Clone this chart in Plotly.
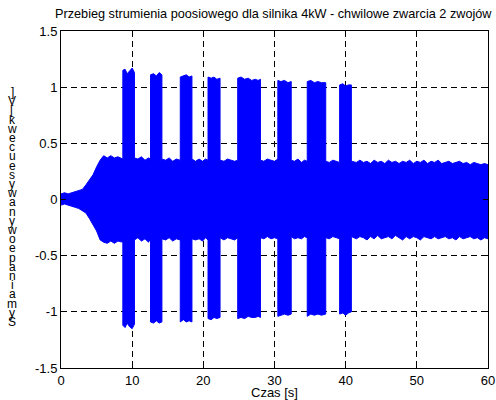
import plotly.graph_objects as go

# ---------------- data ----------------
# envelope of the recorded signal: time [s], upper and lower bound
env_t = [0, 0.5, 1, 1.5, 2, 2.5, 3, 3.5, 4, 4.5, 5, 5.5, 6, 6.5, 7, 7.5, 8, 8.69,
         8.69, 9.0, 9.3, 9.6, 10.0, 10.32,
         10.32, 10.8, 11.3, 11.8, 12.3, 12.58,
         12.58, 13.0, 13.4, 13.8, 14.18,
         14.18, 14.7, 15.2, 15.7, 16.2, 16.76,
         16.76, 17.2, 17.6, 18.0, 18.4,
         18.4, 18.9, 19.4, 19.9, 20.3, 20.66,
         20.66, 21.1, 21.5, 21.9, 22.35,
         22.35, 22.9, 23.4, 23.9, 24.4, 24.83,
         24.83, 25.3, 25.8, 26.3, 26.8, 27.3, 27.7, 28.03,
         28.03, 28.5, 29.0, 29.5, 30.0, 30.47,
         30.47, 30.9, 31.4, 31.9, 32.35,
         32.35, 32.8, 33.3, 33.8, 34.2, 34.6,
         34.6, 35.1, 35.6, 36.1, 36.6, 37.2,
         37.2, 37.7, 38.2, 38.7, 39.15,
         39.15, 39.6, 40.0, 40.4, 40.8,
         40.8, 41.5, 42, 42.5, 43, 43.5, 44, 44.5, 45, 45.5, 46, 46.5, 47, 47.5,
         48, 48.5, 49, 49.5, 50, 50.5, 51, 51.5, 52, 52.5, 53, 53.5, 54, 54.5,
         55, 55.5, 56, 56.5, 57, 57.5, 58, 58.5, 59, 59.5, 60]

env_upper = [0.05, 0.06, 0.05, 0.06, 0.07, 0.08, 0.09, 0.13, 0.17, 0.22, 0.29, 0.35, 0.39, 0.37, 0.39, 0.37, 0.38, 0.36,
             1.15, 1.16, 1.12, 1.14, 1.17, 1.13,
             0.37, 0.36, 0.38, 0.35, 0.37, 0.36,
             1.11, 1.12, 1.10, 1.13, 1.11,
             0.36, 0.35, 0.37, 0.34, 0.36, 0.35,
             1.09, 1.10, 1.11, 1.09, 1.10,
             0.36, 0.34, 0.36, 0.34, 0.36, 0.35,
             1.09, 1.08, 1.09, 1.07, 1.08,
             0.35, 0.34, 0.36, 0.35, 0.34, 0.35,
             1.08, 1.09, 1.07, 1.08, 1.06, 1.07, 1.06, 1.07,
             0.35, 0.34, 0.36, 0.35, 0.34, 0.36,
             1.06, 1.05, 1.06, 1.04, 1.05,
             0.35, 0.34, 0.36, 0.33, 0.35, 0.34,
             1.05, 1.06, 1.04, 1.05, 1.04, 1.04,
             0.34, 0.33, 0.35, 0.34, 0.33,
             1.02, 1.03, 1.01, 1.02, 1.02,
             0.34, 0.33, 0.35, 0.33, 0.34, 0.32, 0.35, 0.33, 0.34, 0.32, 0.35, 0.33, 0.34, 0.32,
             0.34, 0.33, 0.35, 0.32, 0.34, 0.33, 0.35, 0.32, 0.34, 0.33, 0.35, 0.32, 0.33, 0.34,
             0.32, 0.33, 0.34, 0.32, 0.33, 0.31, 0.33, 0.32, 0.31, 0.32, 0.31]

env_lower = [-0.05, -0.04, -0.05, -0.06, -0.07, -0.08, -0.10, -0.12, -0.17, -0.22, -0.28, -0.36, -0.38, -0.39, -0.37, -0.39, -0.37, -0.38,
             -1.12, -1.14, -1.10, -1.13, -1.15, -1.11,
             -0.36, -0.34, -0.37, -0.35, -0.38, -0.35,
             -1.09, -1.10, -1.08, -1.10, -1.09,
             -0.35, -0.36, -0.34, -0.37, -0.35, -0.36,
             -1.09, -1.07, -1.09, -1.08, -1.09,
             -0.35, -0.36, -0.35, -0.37, -0.34, -0.36,
             -1.06, -1.07, -1.05, -1.06, -1.05,
             -0.34, -0.36, -0.34, -0.35, -0.36, -0.34,
             -1.06, -1.05, -1.06, -1.04, -1.05, -1.05, -1.04, -1.05,
             -0.34, -0.35, -0.33, -0.35, -0.34, -0.35,
             -1.04, -1.03, -1.02, -1.03, -1.02,
             -0.33, -0.35, -0.34, -0.35, -0.33, -0.34,
             -1.04, -1.02, -1.03, -1.02, -1.03, -1.02,
             -0.34, -0.35, -0.33, -0.34, -0.35,
             -1.02, -1.01, -1.03, -1.01, -1.00,
             -0.33, -0.35, -0.33, -0.34, -0.36, -0.33, -0.35, -0.32, -0.35, -0.34, -0.33, -0.35, -0.32, -0.34,
             -0.36, -0.33, -0.35, -0.33, -0.34, -0.36, -0.33, -0.34, -0.35, -0.33, -0.35, -0.34, -0.33, -0.35,
             -0.34, -0.36, -0.33, -0.35, -0.34, -0.33, -0.35, -0.34, -0.36, -0.34, -0.35]

x_ticks = [0, 10, 20, 30, 40, 50, 60]
y_ticks = [-1.5, -1, -0.5, 0, 0.5, 1, 1.5]
y_tick_text = ["-1.5", "-1", "-0.5", "0", "0.5", "1", "1.5"]

title_text = "Przebieg strumienia poosiowego dla silnika 4kW - chwilowe zwarcia 2 zwojów"
x_title = "Czas [s]"
# y label as it appears: characters stacked vertically (top to bottom)
y_label_chars = ["]", "V", "[", "k", "w", "e", "c", "u", "e", "s", "y", "w", "a",
                 "n", "y", "w", "o", "e", "p", "a", "n", "i", "a", "m", "y", "S"]

# ---------------- figure ----------------
W, H = 496, 400
L, R, T, B = 61, 8, 31, 32
plot_h = H - T - B
plot_w = W - L - R

poly_x = env_t + env_t[::-1]
poly_y = env_upper + env_lower[::-1]

fig = go.Figure()
fig.add_trace(go.Scatter(
    x=poly_x, y=poly_y, mode="lines", fill="toself",
    fillcolor="#0000ff", line=dict(color="#0000ff", width=1),
    hoverinfo="skip", showlegend=False))

font_family = "Liberation Sans, Arial, sans-serif"
FS = 13

axis_common = dict(
    showline=True, linecolor="black", linewidth=1, mirror="ticks",
    ticks="inside", ticklen=5, tickcolor="black",
    showgrid=True, gridcolor="black", gridwidth=1, griddash="6px,4px",
    zeroline=False, automargin=False,
    tickfont=dict(family=font_family, size=FS, color="black"),
)

fig.update_xaxes(range=[0, 60], tickvals=x_ticks, **axis_common)
fig.update_yaxes(range=[-1.5, 1.5], tickvals=y_ticks, ticktext=y_tick_text, **axis_common)

annotations = [
    dict(text=title_text, xref="paper", yref="paper",
         x=(273 - L) / plot_w,
         y=1 + (T - 14) / plot_h, xanchor="center", yanchor="middle",
         showarrow=False, font=dict(family=font_family, size=12.7, color="black")),
    dict(text=x_title, xref="paper", yref="paper", x=0.5,
         y=-(392 - (H - B)) / plot_h, xanchor="center", yanchor="middle",
         showarrow=False, font=dict(family=font_family, size=FS, color="black")),
]
n = len(y_label_chars)
top_px, bot_px = 92, 322
for i, ch in enumerate(y_label_chars):
    py = top_px + (bot_px - top_px) * i / (n - 1)
    annotations.append(dict(
        text=ch, xref="paper", yref="paper",
        x=(12 - L) / plot_w, y=(H - B - py) / plot_h,
        xanchor="center", yanchor="middle", showarrow=False,
        font=dict(family=font_family, size=12, color="black")))

fig.update_layout(
    width=W, height=H,
    margin=dict(l=L, r=R, t=T, b=B, autoexpand=False),
    plot_bgcolor="white", paper_bgcolor="white",
    showlegend=False, annotations=annotations,
    font=dict(family=font_family, size=FS, color="black"),
)

fig.write_html("out.html", config={"displayModeBar": False},
               post_script="document.body.style.margin='0';")
